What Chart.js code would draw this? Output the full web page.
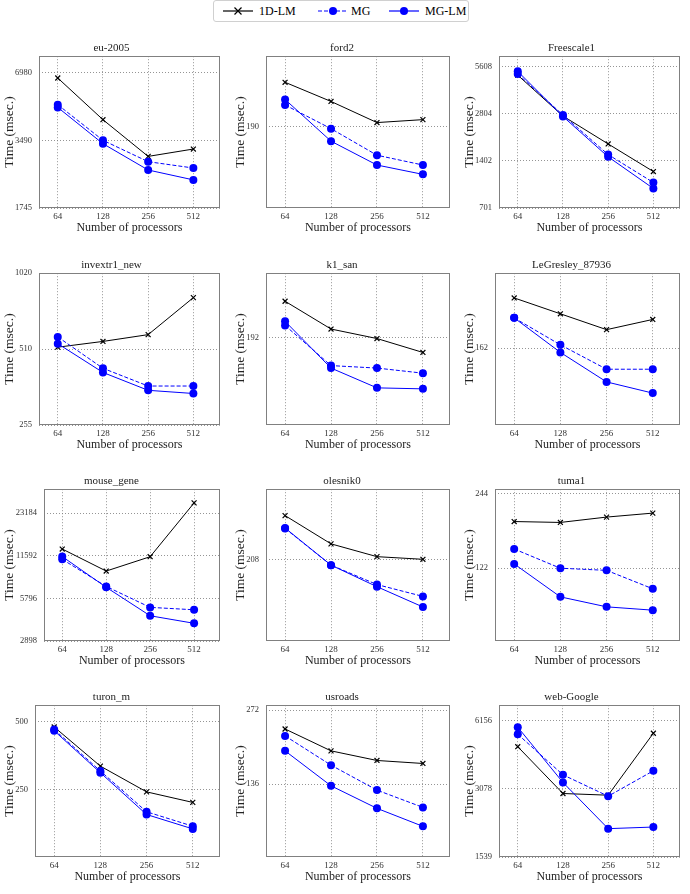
<!DOCTYPE html>
<html>
<head>
<meta charset="utf-8">
<script src="https://cdn.jsdelivr.net/npm/chart.js@4.4.0/dist/chart.umd.min.js"></script>
<style>
body { margin: 0; background: #fff; width: 690px; height: 894px; position: relative; overflow: hidden; font-family: "Liberation Serif", serif; }
canvas { position: absolute; }
#legend { position: absolute; left: 213px; top: 0px; width: 254px; height: 20px; border: 1px solid #d0d0d0; border-radius: 3px; background: #fff; font-size: 12px; }
#legend .item { position: absolute; top: 2px; height: 16px; line-height: 16px; }
#legend svg { position: absolute; top: 2px; left: 0; }
#legend span { position: absolute; left: 36px; white-space: nowrap; }
</style>
</head>
<body>
<div id="legend">
  <div class="item" style="left:9px">
    <svg width="30" height="12"><line x1="0" y1="6" x2="30" y2="6" stroke="black" stroke-width="1.2"/><path d="M11.5 2.5 L18.5 9.5 M18.5 2.5 L11.5 9.5" stroke="black" stroke-width="1.2"/></svg>
    <span>1D-LM</span>
  </div>
  <div class="item" style="left:104px">
    <svg width="30" height="12"><line x1="0" y1="6" x2="30" y2="6" stroke="blue" stroke-width="1.2" stroke-dasharray="4,2"/><circle cx="15" cy="6" r="4" fill="blue"/></svg>
    <span style="left:33px">MG</span>
  </div>
  <div class="item" style="left:175px">
    <svg width="30" height="12"><line x1="0" y1="6" x2="30" y2="6" stroke="blue" stroke-width="1.2"/><circle cx="15" cy="6" r="4" fill="blue"/></svg>
    <span>MG-LM</span>
  </div>
</div>
<script>
const procs = [64, 128, 256, 512];
const titles = ['eu-2005', 'ford2', 'Freescale1', 'invextr1_new', 'k1_san', 'LeGresley_87936',
                'mouse_gene', 'olesnik0', 'tuma1', 'turon_m', 'usroads', 'web-Google'];

// times in msec for 64, 128, 256, 512 processors
const lm1d = [
  [6605, 4309, 2960, 3192],
  [278, 236, 197, 202],
  [4964, 2718, 1802, 1200],
  [519, 547, 582, 816],
  [257, 206, 191, 171],
  [255, 221, 191.5, 210],
  [12948, 9050, 11427, 27400],
  [301, 237, 212.7, 208],
  [188.6, 187, 196.6, 204],
  [474, 317.6, 244, 219],
  [228, 185.7, 169.7, 165],
  [4723, 2937, 2887, 5414]
];
const mg = [
  [5026, 3490, 2804, 2628],
  [229, 187, 149, 137],
  [5050, 2760, 1540, 1021],
  [570, 428, 364, 364],
  [212, 154, 151, 145],
  [213, 167, 134, 134],
  [10950, 7050, 5014, 4823],
  [270, 198, 168, 152],
  [146, 122, 119.6, 100.7],
  [462, 302, 199, 171.7],
  [213.7, 162.4, 128.5, 109.3],
  [5359, 3550, 2858, 3698]
];
const mglm = [
  [4888, 3371, 2575, 2327],
  [240, 168, 137, 126.5],
  [5250, 2700, 1490, 935],
  [536, 412, 350, 340],
  [219, 151, 129, 128],
  [213, 156, 119.5, 108],
  [11450, 6950, 4374, 3870],
  [271, 198, 165, 139],
  [127, 93.4, 85.1, 82.5],
  [456, 297, 193.5, 167],
  [185.7, 133.8, 108.3, 91.5],
  [5756, 3286, 2056, 2090]
];
const yTicks = [
  [1745, 3490, 6980],
  [190],
  [701, 1402, 2804, 5608],
  [255, 510, 1020],
  [192],
  [162],
  [2898, 5796, 11592, 23184],
  [208],
  [122, 244],
  [250, 500],
  [136, 272],
  [1539, 3078, 6156]
];

const colLeft = [0, 231, 460];
const colRight = [223, 453, 683];
const rowTop = [38, 255, 471, 687];
const serif = '"Liberation Serif", serif';

const boxPlugin = {
  id: 'box',
  beforeDatasetsDraw(chart) {
    const a = chart.chartArea;
    const ctx = chart.ctx;
    ctx.save();
    ctx.strokeStyle = '#808080';
    ctx.lineWidth = 1;
    ctx.strokeRect(Math.round(a.left) + 0.5, Math.round(a.top) + 0.5, Math.round(a.width) - 1, Math.round(a.height) - 1);
    ctx.restore();
  }
};

function pts(arr) {
  return arr.map((v, i) => ({ x: procs[i], y: v }));
}

titles.forEach((t, k) => {
  const col = k % 3;
  const cv = document.createElement('canvas');
  cv.width = colRight[col] - colLeft[col] + 2;
  cv.height = 206;
  cv.style.left = colLeft[col] + 'px';
  cv.style.top = rowTop[Math.floor(k / 3)] + 'px';
  document.body.appendChild(cv);

  const all = lm1d[k].concat(mg[k], mglm[k]);
  const ymin = 0.75 * Math.min(...all);
  const ymax = 1.25 * Math.max(...all);
  const ticks = yTicks[k];
  const digits = Math.max(...ticks.map(v => String(v).length));

  new Chart(cv, {
    type: 'line',
    data: {
      datasets: [
        {
          label: '1D-LM',
          data: pts(lm1d[k]),
          borderColor: 'black',
          backgroundColor: 'black',
          borderWidth: 1,
          pointStyle: 'crossRot',
          pointRadius: 3.5,
          pointBorderWidth: 1.2,
          order: 3
        },
        {
          label: 'MG',
          data: pts(mg[k]),
          borderColor: 'blue',
          backgroundColor: 'blue',
          borderWidth: 1,
          borderDash: [4, 2],
          pointStyle: 'circle',
          pointRadius: 4,
          pointBorderWidth: 0,
          order: 2
        },
        {
          label: 'MG-LM',
          data: pts(mglm[k]),
          borderColor: 'blue',
          backgroundColor: 'blue',
          borderWidth: 1,
          pointStyle: 'circle',
          pointRadius: 4,
          pointBorderWidth: 0,
          order: 1
        }
      ]
    },
    options: {
      responsive: false,
      animation: false,
      events: [],
      layout: { padding: { left: 0, right: 2, top: 0, bottom: 0 } },
      plugins: {
        legend: { display: false },
        tooltip: { enabled: false },
        title: {
          display: true,
          text: t,
          color: '#222',
          font: { family: serif, size: 11, weight: 'normal' },
          padding: { top: 4, bottom: 1 }
        }
      },
      scales: {
        x: {
          type: 'logarithmic',
          min: 48,
          max: 768,
          bounds: 'data',
          afterBuildTicks: (s) => { s.ticks = procs.map(v => ({ value: v })); },
          afterFit: (s) => { s.height = 36; },
          ticks: {
            color: '#333',
            padding: 3.5,
            maxRotation: 0,
            autoSkip: false,
            font: { family: serif, size: 9 },
            callback: (v) => String(v)
          },
          grid: { color: '#7a7a7a', lineWidth: 0.8, drawTicks: false },
          border: { display: false, dash: [1, 2] },
          title: {
            display: true,
            text: 'Number of processors',
            color: '#222',
            font: { family: serif, size: 12 },
            padding: { top: 0, bottom: 8.5 }
          }
        },
        y: {
          type: 'logarithmic',
          min: ymin,
          max: ymax,
          bounds: 'data',
          afterBuildTicks: (s) => { s.ticks = ticks.map(v => ({ value: v })); },
          afterFit: (s) => { s.width = Math.round(23 + 4.1 * digits) - (col === 1 ? 0 : 0); },
          ticks: {
            color: '#333',
            padding: 7,
            autoSkip: false,
            font: { family: serif, size: 8.5 },
            callback: (v) => String(v)
          },
          grid: { color: '#7a7a7a', lineWidth: 0.8, drawTicks: false },
          border: { display: false, dash: [1, 2] },
          title: {
            display: true,
            text: 'Time (msec.)',
            color: '#222',
            font: { family: serif, size: 13.5 },
            padding: { top: 1.5, bottom: 0 }
          }
        }
      }
    },
    plugins: [boxPlugin]
  });
});
</script>
</body>
</html>
